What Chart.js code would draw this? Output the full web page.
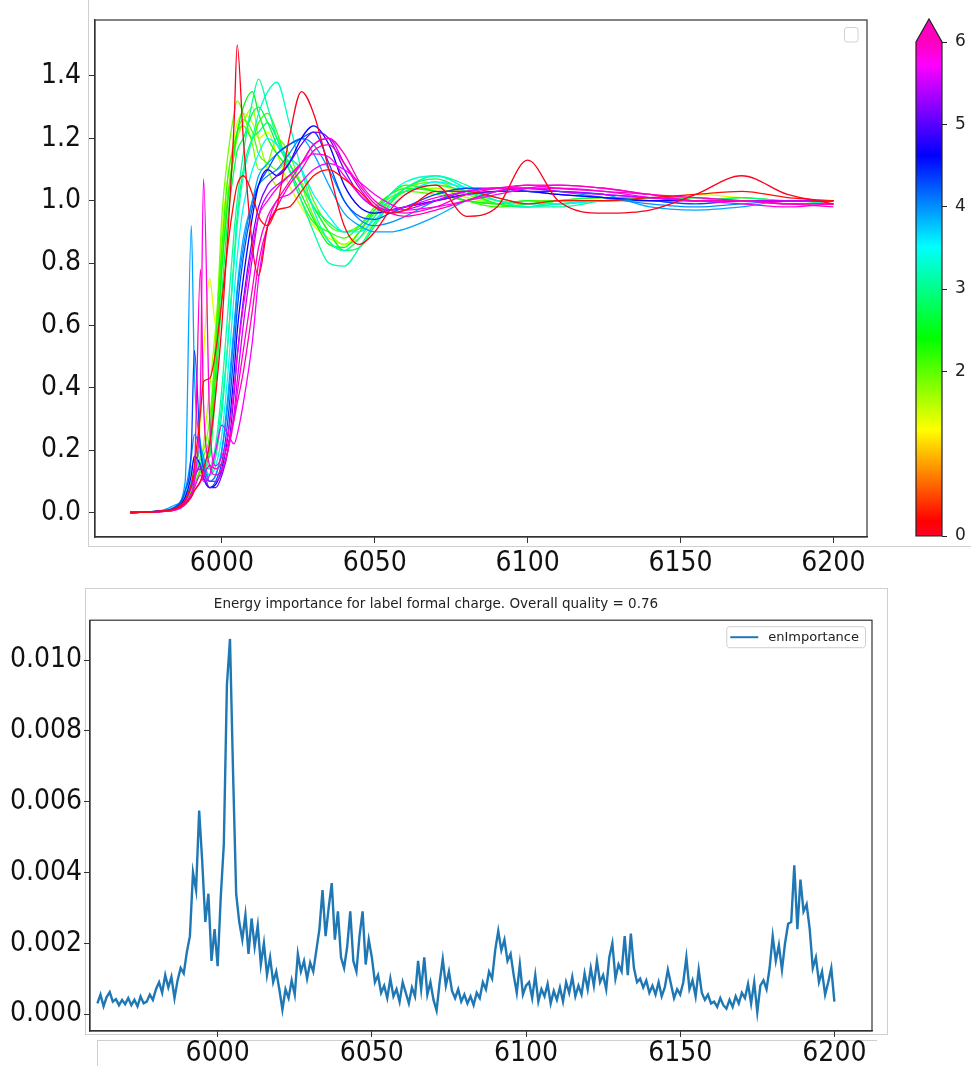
<!DOCTYPE html>
<html>
<head>
<meta charset="utf-8">
<title>Spectra and energy importance</title>
<script src="https://cdn.jsdelivr.net/npm/chart.js@4.4.1/dist/chart.umd.min.js"></script>
<style>
  html, body { margin: 0; padding: 0; background: #fff; }
  body { width: 971px; height: 1066px; position: relative; overflow: hidden; }
  canvas, .frame { position: absolute; }
  .frame { border: 0 solid #cfcfcf; box-sizing: border-box; }
</style>
</head>
<body>
<div class="frame" style="left:88px; top:-2px; width:890px; height:549px; border-left-width:1px; border-bottom-width:1px;"></div>
<div class="frame" style="left:85px; top:588px; width:803px; height:447px; border-width:1px;"></div>
<div class="frame" style="left:97px; top:1040px; width:780px; height:40px; border-left-width:1px; border-top-width:1px;"></div>
<canvas id="spectraChart" width="880" height="580" style="left:0; top:0;"></canvas>
<canvas id="colorbar" width="91" height="560" style="left:880px; top:0;"></canvas>
<canvas id="importanceChart" width="890" height="478" style="left:0; top:588px;"></canvas>

<script>
// ============ DATA: SPECTRA (top panel) ============

const energy = [5970, 5980, 5985, 5988, 5990, 5991, 5993, 5994, 5996, 5998,
                6000, 6002, 6004, 6005, 6007, 6010, 6012, 6015, 6018, 6022,
                6026, 6030, 6035, 6040, 6045, 6050, 6055, 6060, 6070, 6080,
                6090, 6100, 6110, 6125, 6140, 6155, 6170, 6185, 6200];

const red1 = [0, 0.004, 0.012, 0.03, 0.05, 0.07, 0.10, 0.14, 0.22, 0.38,
              0.60, 0.90, 1.25, 1.50, 1.20, 0.85, 0.76, 0.92, 0.98, 1.20,
              1.35, 1.28, 1.10, 0.92, 0.86, 0.90, 0.97, 1.02, 1.05, 0.95,
              0.98, 1.13, 1.00, 0.96, 0.97, 1.02, 1.08, 1.02, 0.99];
const red2 = [0, 0.004, 0.014, 0.04, 0.09, 0.15, 0.32, 0.42, 0.43, 0.52,
              0.68, 0.86, 1.00, 1.05, 1.08, 1.02, 0.95, 0.92, 0.97, 0.98,
              1.03, 1.08, 1.10, 1.07, 1.03, 0.98, 0.96, 0.97, 1.03, 1.03,
              1.01, 0.99, 1.00, 1.00, 1.01, 1.02, 1.03, 1.01, 1.00];
const green1 = [0, 0.004, 0.015, 0.04, 0.08, 0.12, 0.30, 0.50, 0.75, 0.60,
                0.90, 1.08, 1.20, 1.25, 1.28, 1.25, 1.20, 1.22, 1.15, 1.05,
                0.98, 0.92, 0.88, 0.86, 0.90, 0.96, 1.00, 1.03, 1.05, 1.02,
                1.00, 0.99, 1.00, 1.01, 1.00, 1.02, 1.01, 1.00, 1.00];
const green2 = [0, 0.004, 0.012, 0.035, 0.07, 0.10, 0.18, 0.20, 0.30, 0.55,
                0.95, 1.15, 1.28, 1.32, 1.28, 1.18, 1.10, 1.12, 1.20, 1.15,
                1.05, 0.95, 0.87, 0.84, 0.88, 0.95, 1.00, 1.04, 1.06, 1.02,
                0.99, 0.98, 0.99, 1.00, 1.01, 1.01, 1.00, 1.00, 0.99];
const green3 = [0, 0.003, 0.010, 0.03, 0.06, 0.09, 0.14, 0.18, 0.25, 0.55,
                0.85, 1.08, 1.18, 1.22, 1.24, 1.20, 1.25, 1.28, 1.22, 1.10,
                1.00, 0.93, 0.90, 0.88, 0.92, 0.98, 1.02, 1.04, 1.03, 1.00,
                0.98, 0.99, 1.00, 1.00, 1.01, 1.00, 1.01, 1.00, 1.00];
const green4 = [0, 0.004, 0.012, 0.03, 0.06, 0.10, 0.16, 0.14, 0.20, 0.45,
                0.78, 1.00, 1.15, 1.22, 1.30, 1.35, 1.28, 1.20, 1.15, 1.10,
                1.02, 0.94, 0.86, 0.85, 0.90, 0.97, 1.02, 1.05, 1.03, 1.00,
                0.99, 1.00, 0.99, 1.00, 1.00, 1.01, 1.00, 1.00, 1.00];
const green5 = [0, 0.003, 0.010, 0.025, 0.05, 0.08, 0.15, 0.22, 0.40, 0.60,
                0.85, 1.02, 1.15, 1.20, 1.25, 1.30, 1.20, 1.10, 1.05, 1.08,
                1.06, 0.98, 0.90, 0.86, 0.88, 0.93, 0.99, 1.03, 1.04, 1.01,
                0.99, 0.98, 1.00, 1.01, 1.00, 1.00, 1.00, 0.99, 0.99];
const green6 = [0, 0.004, 0.015, 0.04, 0.08, 0.12, 0.20, 0.16, 0.18, 0.40,
                0.70, 0.95, 1.10, 1.16, 1.20, 1.28, 1.30, 1.25, 1.18, 1.12,
                1.05, 0.98, 0.90, 0.84, 0.85, 0.92, 0.99, 1.04, 1.07, 1.03,
                0.99, 0.98, 1.00, 1.01, 1.01, 1.00, 1.00, 1.00, 1.00];
const green7 = [0, 0.003, 0.010, 0.03, 0.06, 0.09, 0.13, 0.15, 0.22, 0.50,
                0.80, 1.02, 1.16, 1.22, 1.26, 1.22, 1.15, 1.12, 1.10, 1.13,
                1.10, 1.00, 0.92, 0.90, 0.92, 0.97, 1.01, 1.03, 1.02, 1.00,
                0.99, 1.00, 1.00, 1.00, 1.01, 1.00, 1.00, 1.00, 1.00];
const aqua1 = [0, 0.004, 0.015, 0.045, 0.10, 0.14, 0.20, 0.17, 0.15, 0.22,
               0.40, 0.65, 0.90, 1.00, 1.15, 1.32, 1.39, 1.30, 1.20, 1.10,
               1.00, 0.90, 0.80, 0.79, 0.85, 0.93, 1.00, 1.04, 1.08, 1.05,
               1.00, 0.98, 0.98, 1.00, 1.01, 1.00, 1.00, 1.00, 1.00];
const aqua2 = [0, 0.004, 0.013, 0.04, 0.09, 0.12, 0.17, 0.15, 0.14, 0.20,
               0.35, 0.55, 0.80, 0.92, 1.08, 1.20, 1.28, 1.35, 1.38, 1.25,
               1.10, 0.97, 0.87, 0.84, 0.88, 0.95, 1.02, 1.06, 1.08, 1.04,
               1.00, 0.98, 0.99, 1.00, 1.01, 1.01, 1.00, 1.00, 0.99];
const aqua3 = [0, 0.004, 0.014, 0.04, 0.08, 0.11, 0.16, 0.13, 0.12, 0.18,
               0.32, 0.55, 0.82, 0.95, 1.10, 1.20, 1.22, 1.25, 1.20, 1.12,
               1.05, 0.98, 0.93, 0.90, 0.91, 0.96, 1.00, 1.03, 1.05, 1.03,
               1.00, 0.99, 1.00, 1.00, 1.00, 1.00, 1.01, 1.00, 1.00];
const aqua4 = [0, 0.005, 0.018, 0.06, 0.14, 0.18, 0.20, 0.16, 0.12, 0.15,
               0.25, 0.45, 0.70, 0.82, 0.98, 1.10, 1.15, 1.20, 1.18, 1.14,
               1.10, 1.02, 0.95, 0.90, 0.90, 0.94, 0.98, 1.02, 1.06, 1.04,
               1.01, 0.99, 0.99, 1.00, 1.00, 1.00, 1.00, 1.00, 1.00];
const blue1 = [0, 0.006, 0.025, 0.10, 0.92, 0.45, 0.22, 0.18, 0.10, 0.12,
               0.20, 0.38, 0.60, 0.72, 0.88, 1.00, 1.08, 1.12, 1.15, 1.18,
               1.20, 1.15, 1.05, 0.96, 0.92, 0.90, 0.90, 0.91, 0.95, 1.00,
               1.03, 1.04, 1.03, 1.02, 0.98, 0.97, 0.98, 1.00, 1.00];
const blue2 = [0, 0.005, 0.020, 0.07, 0.20, 0.52, 0.20, 0.14, 0.08, 0.10,
               0.16, 0.30, 0.52, 0.65, 0.82, 0.98, 1.05, 1.10, 1.15, 1.18,
               1.20, 1.22, 1.12, 1.00, 0.95, 0.94, 0.96, 0.98, 1.02, 1.04,
               1.04, 1.03, 1.02, 1.01, 1.00, 0.99, 1.00, 1.00, 1.00];
const blue3 = [0, 0.004, 0.015, 0.05, 0.12, 0.18, 0.15, 0.11, 0.08, 0.09,
               0.14, 0.25, 0.45, 0.58, 0.75, 0.95, 1.05, 1.10, 1.08, 1.12,
               1.20, 1.24, 1.18, 1.05, 0.98, 0.96, 0.97, 0.98, 1.00, 1.02,
               1.03, 1.03, 1.02, 1.01, 1.00, 1.00, 1.00, 1.00, 1.00];
const blue4 = [0, 0.005, 0.020, 0.07, 0.18, 0.25, 0.20, 0.15, 0.10, 0.12,
               0.20, 0.35, 0.58, 0.70, 0.85, 1.00, 1.05, 1.08, 1.10, 1.15,
               1.20, 1.18, 1.10, 1.00, 0.94, 0.92, 0.93, 0.95, 1.00, 1.03,
               1.04, 1.04, 1.03, 1.01, 0.99, 0.98, 0.99, 1.00, 1.00];
const magenta1 = [0, 0.004, 0.013, 0.04, 0.09, 0.12, 0.14, 0.11, 0.08, 0.08,
                  0.12, 0.20, 0.38, 0.50, 0.68, 0.88, 0.98, 1.05, 1.08, 1.12,
                  1.18, 1.22, 1.20, 1.10, 1.02, 0.98, 0.97, 0.98, 1.00, 1.02,
                  1.03, 1.03, 1.03, 1.02, 1.01, 1.00, 1.00, 1.00, 1.00];
const magenta2 = [0, 0.004, 0.012, 0.035, 0.08, 0.11, 0.15, 0.12, 0.10, 0.10,
                  0.13, 0.20, 0.32, 0.42, 0.60, 0.82, 0.95, 1.02, 1.05, 1.08,
                  1.12, 1.18, 1.20, 1.12, 1.04, 0.98, 0.96, 0.97, 1.00, 1.03,
                  1.04, 1.04, 1.03, 1.02, 1.01, 1.00, 1.00, 1.00, 1.00];
const magenta3 = [0, 0.003, 0.010, 0.03, 0.06, 0.10, 0.40, 1.07, 0.30, 0.15,
                  0.18, 0.25, 0.40, 0.50, 0.66, 0.85, 0.95, 1.00, 1.04, 1.08,
                  1.12, 1.15, 1.14, 1.08, 1.02, 0.98, 0.97, 0.98, 1.01, 1.03,
                  1.04, 1.04, 1.04, 1.03, 1.01, 1.00, 0.99, 0.98, 0.99];
const magenta4 = [0, 0.003, 0.010, 0.03, 0.06, 0.12, 0.78, 0.35, 0.15, 0.12,
                  0.14, 0.20, 0.30, 0.38, 0.52, 0.72, 0.85, 0.95, 1.00, 1.06,
                  1.12, 1.18, 1.20, 1.15, 1.06, 1.00, 0.97, 0.96, 0.98, 1.02,
                  1.04, 1.05, 1.04, 1.03, 1.02, 1.00, 1.00, 0.99, 0.99];
const magenta5 = [0, 0.003, 0.008, 0.025, 0.05, 0.07, 0.10, 0.12, 0.15, 0.14,
                  0.16, 0.22, 0.30, 0.35, 0.45, 0.65, 0.80, 0.92, 0.98, 1.05,
                  1.10, 1.16, 1.18, 1.12, 1.05, 0.99, 0.96, 0.95, 0.97, 1.00,
                  1.03, 1.05, 1.05, 1.04, 1.02, 1.01, 1.00, 0.99, 0.98];
const magenta6 = [0, 0.003, 0.009, 0.028, 0.06, 0.08, 0.12, 0.10, 0.12, 0.20,
                  0.28, 0.25, 0.22, 0.25, 0.35, 0.55, 0.75, 0.92, 1.00, 1.02,
                  1.06, 1.10, 1.12, 1.10, 1.06, 1.02, 0.99, 0.97, 0.98, 1.00,
                  1.02, 1.04, 1.05, 1.04, 1.02, 1.00, 1.00, 0.99, 0.99];

// first in list is drawn on top
const spectra = [red1, red2, magenta5, magenta4, magenta3, magenta6, magenta2, magenta1,
                 blue3, blue2, blue4, blue1, aqua4, aqua2, aqua1, aqua3,
                 green6, green4, green3, green7, green2, green5, green1];
const formalCharges = [0.05, 0.25, 6.0, 5.95, 5.8, 5.7, 5.5, 5.1,
                       4.65, 4.3, 4.0, 3.9, 3.55, 3.25, 3.1, 2.9,
                       2.7, 2.5, 2.2, 2.05, 1.9, 1.7, 1.45];

const spectraXTicks = [6000, 6050, 6100, 6150, 6200];
const spectraYTicks = [0.0, 0.2, 0.4, 0.6, 0.8, 1.0, 1.2, 1.4];
const colorbarTicks = [0, 2, 3, 4, 5, 6];

// ============ DATA: ENERGY IMPORTANCE (bottom panel) ============

const impEnergy = [
  5961, 5962, 5963, 5964, 5965, 5966, 5967, 5968, 5969, 5970,
  5971, 5972, 5973, 5974, 5975, 5976, 5977, 5978, 5979, 5980,
  5981, 5982, 5983, 5984, 5985, 5986, 5987, 5988, 5989, 5990,
  5991, 5992, 5993, 5994, 5995, 5996, 5997, 5998, 5999, 6000,
  6001, 6002, 6003, 6004, 6005, 6006, 6007, 6008, 6009, 6010,
  6011, 6012, 6013, 6014, 6015, 6016, 6017, 6018, 6019, 6020,
  6021, 6022, 6023, 6024, 6025, 6026, 6027, 6028, 6029, 6030,
  6031, 6032, 6033, 6034, 6035, 6036, 6037, 6038, 6039, 6040,
  6041, 6042, 6043, 6044, 6045, 6046, 6047, 6048, 6049, 6050,
  6051, 6052, 6053, 6054, 6055, 6056, 6057, 6058, 6059, 6060,
  6061, 6062, 6063, 6064, 6065, 6066, 6067, 6068, 6069, 6070,
  6071, 6072, 6073, 6074, 6075, 6076, 6077, 6078, 6079, 6080,
  6081, 6082, 6083, 6084, 6085, 6086, 6087, 6088, 6089, 6090,
  6091, 6092, 6093, 6094, 6095, 6096, 6097, 6098, 6099, 6100,
  6101, 6102, 6103, 6104, 6105, 6106, 6107, 6108, 6109, 6110,
  6111, 6112, 6113, 6114, 6115, 6116, 6117, 6118, 6119, 6120,
  6121, 6122, 6123, 6124, 6125, 6126, 6127, 6128, 6129, 6130,
  6131, 6132, 6133, 6134, 6135, 6136, 6137, 6138, 6139, 6140,
  6141, 6142, 6143, 6144, 6145, 6146, 6147, 6148, 6149, 6150,
  6151, 6152, 6153, 6154, 6155, 6156, 6157, 6158, 6159, 6160,
  6161, 6162, 6163, 6164, 6165, 6166, 6167, 6168, 6169, 6170,
  6171, 6172, 6173, 6174, 6175, 6176, 6177, 6178, 6179, 6180,
  6181, 6182, 6183, 6184, 6185, 6186, 6187, 6188, 6189, 6190,
  6191, 6192, 6193, 6194, 6195, 6196, 6197, 6198, 6199, 6200
];

// importance values in units of 1e-3
const impMilli = [
  0.30, 0.55, 0.22, 0.48, 0.62, 0.35, 0.42, 0.25, 0.40, 0.28,
  0.45, 0.25, 0.40, 0.22, 0.50, 0.30, 0.35, 0.55, 0.40, 0.70,
  0.90, 0.60, 1.10, 0.75, 1.05, 0.45, 0.95, 1.30, 1.15, 1.75,
  2.20, 4.00, 3.50, 5.75, 4.30, 2.60, 3.40, 1.50, 2.40, 1.35,
  3.30, 4.80, 9.30, 10.60, 6.80, 3.40, 2.60, 2.10, 2.80, 1.70,
  2.70, 1.90, 2.50, 1.40, 2.00, 1.10, 1.60, 0.90, 1.20, 0.70,
  0.12, 0.70, 0.45, 0.95, 0.55, 1.70, 1.20, 1.50, 1.00, 1.45,
  1.20, 1.80, 2.40, 3.50, 2.20, 3.00, 3.70, 2.10, 2.90, 1.60,
  1.30, 1.90, 2.90, 1.50, 1.20, 2.20, 2.90, 1.40, 2.10, 1.60,
  0.90, 1.10, 0.60, 0.80, 0.45, 1.00, 0.50, 0.70, 0.35, 0.90,
  0.60, 0.30, 0.75, 0.50, 1.50, 0.70, 1.60, 0.55, 0.90, 0.40,
  0.10, 0.90, 1.55, 0.80, 1.20, 0.65, 0.45, 0.70, 0.35, 0.55,
  0.30, 0.50, 0.25, 0.60, 0.45, 0.90, 0.70, 1.20, 1.00, 1.80,
  2.35, 1.80, 2.10, 1.50, 1.70, 1.10, 0.60, 1.40, 0.55, 0.80,
  0.90, 0.45, 1.10, 0.35, 0.70, 0.50, 0.85, 0.30, 0.65, 0.40,
  0.75, 0.35, 0.90, 0.60, 1.05, 0.50, 0.80, 0.55, 1.15, 0.70,
  1.30, 0.80, 1.50, 0.90, 1.10, 0.70, 1.60, 2.00, 1.00, 1.40,
  1.20, 2.20, 1.10, 2.27, 1.30, 0.90, 1.00, 0.75, 0.95, 0.60,
  0.80, 0.55, 0.90, 0.50, 0.75, 1.25, 0.85, 0.45, 0.70, 0.55,
  0.90, 1.60, 0.70, 0.95, 0.50, 1.25, 0.60, 0.40, 0.55, 0.30,
  0.35, 0.20, 0.45, 0.25, 0.15, 0.40, 0.20, 0.50, 0.30, 0.60,
  0.45, 0.85, 0.30, 0.90, 0.05, 0.80, 0.95, 0.70, 1.30, 2.20,
  1.50, 1.95, 1.25, 2.00, 2.55, 2.60, 4.20, 2.40, 3.80, 2.90,
  3.10, 2.40, 1.30, 1.60, 0.90, 1.20, 0.55, 0.90, 1.30, 0.35
];

const impXTicks = [6000, 6050, 6100, 6150, 6200];
const impYTicks = [0.000, 0.002, 0.004, 0.006, 0.008, 0.010];

// ============ STYLE HELPERS ============

const axisFont = '"DejaVu Sans Condensed", "Open Sans", sans-serif';
const mplFont = '"DejaVu Sans", sans-serif';

// gist_rainbow colormap
const rainbowStops = [
  [0.000, 1.00, 0.00, 0.16], [0.030, 1.00, 0.00, 0.00], [0.215, 1.00, 1.00, 0.00],
  [0.400, 0.00, 1.00, 0.00], [0.586, 0.00, 1.00, 1.00], [0.770, 0.00, 0.00, 1.00],
  [0.954, 1.00, 0.00, 1.00], [1.000, 1.00, 0.00, 0.75]
];
const overColor = 'rgb(255, 0, 191)';

function toRgb(r, g, b) {
  return `rgb(${Math.round(r * 255)}, ${Math.round(g * 255)}, ${Math.round(b * 255)})`;
}

function rainbow(t) {
  t = Math.min(1, Math.max(0, t));
  for (let i = 1; i < rainbowStops.length; i++) {
    const [p0, r0, g0, b0] = rainbowStops[i - 1];
    const [p1, r1, g1, b1] = rainbowStops[i];
    if (t <= p1) {
      const f = (t - p0) / (p1 - p0);
      return toRgb(r0 + (r1 - r0) * f, g0 + (g1 - g0) * f, b0 + (b1 - b0) * f);
    }
  }
  return overColor;
}

function fixedTicks(list) {
  return scale => { scale.ticks = list.map(v => ({ value: v })); };
}

// ============ PLUGINS ============

const framePlugin = {
  id: 'frame',
  afterDraw(chart) {
    const { ctx, chartArea: a } = chart;
    ctx.save();
    ctx.strokeStyle = '#333';
    ctx.lineWidth = 1.2;
    ctx.strokeRect(a.left, a.top, a.right - a.left, a.bottom - a.top);
    ctx.restore();
  }
};

// matplotlib draws an empty legend frame when no labels are given
const emptyLegendPlugin = {
  id: 'emptyLegend',
  afterDraw(chart) {
    const { ctx, chartArea: a } = chart;
    ctx.save();
    ctx.strokeStyle = '#d0d0d0';
    ctx.lineWidth = 1;
    ctx.beginPath();
    ctx.roundRect(a.right - 22.5, a.top + 7.5, 13.5, 14.5, 2.5);
    ctx.stroke();
    ctx.restore();
  }
};

const boxLegendPlugin = {
  id: 'boxLegend',
  afterDraw(chart) {
    const { ctx, chartArea: a } = chart;
    const ds = chart.data.datasets[0];
    ctx.save();
    ctx.font = '13px ' + mplFont;
    const w = ctx.measureText(ds.label).width + 48;
    const h = 21;
    const x = a.right - 7 - w;
    const y = a.top + 6;
    ctx.beginPath();
    ctx.roundRect(x + 0.5, y + 0.5, w, h, 3);
    ctx.fillStyle = 'rgba(255,255,255,0.8)';
    ctx.fill();
    ctx.strokeStyle = '#d0d0d0';
    ctx.lineWidth = 1;
    ctx.stroke();
    ctx.beginPath();
    ctx.moveTo(x + 4, y + h / 2 + 0.5);
    ctx.lineTo(x + 32, y + h / 2 + 0.5);
    ctx.strokeStyle = ds.borderColor;
    ctx.lineWidth = 2;
    ctx.stroke();
    ctx.fillStyle = '#222';
    ctx.textBaseline = 'middle';
    ctx.fillText(ds.label, x + 42, y + h / 2 + 1);
    ctx.restore();
  }
};

const colorbarPlugin = {
  id: 'colorbarFill',
  afterDraw(chart) {
    const { ctx, chartArea: a, scales: { y } } = chart;
    const yBottom = y.getPixelForValue(y.min);
    const yTop = y.getPixelForValue(y.max);
    const mid = (a.left + a.right) / 2;
    const tip = yTop - 23;
    ctx.save();
    const grad = ctx.createLinearGradient(0, yBottom, 0, yTop);
    rainbowStops.forEach(([p, r, g, b]) => grad.addColorStop(p, toRgb(r, g, b)));
    ctx.fillStyle = grad;
    ctx.fillRect(a.left, yTop, a.right - a.left, yBottom - yTop);
    ctx.beginPath();
    ctx.moveTo(a.left, yTop);
    ctx.lineTo(mid, tip);
    ctx.lineTo(a.right, yTop);
    ctx.closePath();
    ctx.fillStyle = overColor;
    ctx.fill();
    ctx.beginPath();
    ctx.moveTo(a.left, yBottom);
    ctx.lineTo(a.left, yTop);
    ctx.lineTo(mid, tip);
    ctx.lineTo(a.right, yTop);
    ctx.lineTo(a.right, yBottom);
    ctx.closePath();
    ctx.strokeStyle = '#222';
    ctx.lineWidth = 1.2;
    ctx.stroke();
    ctx.restore();
  }
};

// ============ TOP PANEL: SPECTRA ============

const spectraDatasets = spectra.map((values, i) => ({
  label: '',
  data: energy.map((e, j) => ({ x: e, y: values[j] })),
  borderColor: rainbow(formalCharges[i] / 6),
  borderWidth: 1.3,
  pointRadius: 0,
  fill: false,
  cubicInterpolationMode: 'monotone'
}));

const tickMarks = { drawOnChartArea: false, drawTicks: true, tickLength: 6, color: '#333', lineWidth: 1 };

new Chart(document.getElementById('spectraChart'), {
  type: 'line',
  data: { datasets: spectraDatasets },
  options: {
    responsive: false,
    animation: false,
    layout: { padding: { top: 20, right: 13, left: 0, bottom: 0 } },
    plugins: { legend: { display: false }, tooltip: { enabled: false } },
    scales: {
      x: {
        type: 'linear', min: 5958.5, max: 6211,
        afterBuildTicks: fixedTicks(spectraXTicks),
        afterFit: s => { s.height = 43; },
        ticks: { autoSkip: false, maxRotation: 0, padding: 4, color: '#111',
                 font: { family: axisFont, size: 28 }, callback: v => String(v) },
        grid: tickMarks,
        border: { display: true, color: '#333', width: 1.2 }
      },
      y: {
        min: -0.0786, max: 1.5796,
        afterBuildTicks: fixedTicks(spectraYTicks),
        afterFit: s => { s.width = 95; s.paddingTop = 0; s.paddingBottom = 0; },
        ticks: { padding: 8, color: '#111', font: { family: axisFont, size: 28 },
                 callback: v => v.toFixed(1) },
        grid: tickMarks,
        border: { display: true, color: '#333', width: 1.2 }
      }
    }
  },
  plugins: [framePlugin, emptyLegendPlugin]
});

// ============ COLORBAR ============

new Chart(document.getElementById('colorbar'), {
  type: 'line',
  data: { datasets: [] },
  options: {
    responsive: false,
    animation: false,
    layout: { padding: { top: 42, left: 36, bottom: 24, right: 0 } },
    plugins: { legend: { display: false }, tooltip: { enabled: false } },
    scales: {
      x: { display: false },
      y: {
        position: 'right', min: 0, max: 6,
        afterBuildTicks: fixedTicks(colorbarTicks),
        afterFit: s => { s.width = 29; },
        ticks: { padding: 8, color: '#222', font: { family: mplFont, size: 17 } },
        grid: { drawOnChartArea: false, drawTicks: true, tickLength: 5, color: '#222' },
        border: { display: false }
      }
    }
  },
  plugins: [colorbarPlugin]
});

// ============ BOTTOM PANEL: ENERGY IMPORTANCE ============

new Chart(document.getElementById('importanceChart'), {
  type: 'line',
  data: {
    datasets: [{
      label: 'enImportance',
      data: impEnergy.map((e, i) => ({ x: e, y: impMilli[i] / 1000 })),
      borderColor: '#1f77b4',
      borderWidth: 2.4,
      pointRadius: 0,
      fill: false,
      tension: 0
    }]
  },
  options: {
    responsive: false,
    animation: false,
    layout: { padding: { top: 0, right: 18, left: 0, bottom: 0 } },
    plugins: {
      legend: { display: false },
      tooltip: { enabled: false },
      title: {
        display: true,
        text: 'Energy importance for label formal charge. Overall quality = 0.76',
        color: '#222',
        font: { family: mplFont, size: 13.5, weight: 'normal' },
        padding: { top: 8, bottom: 8 }
      }
    },
    scales: {
      x: {
        type: 'linear', min: 5958.6, max: 6212.2,
        afterBuildTicks: fixedTicks(impXTicks),
        afterFit: s => { s.height = 35; },
        ticks: { autoSkip: false, maxRotation: 0, padding: 0, color: '#111',
                 font: { family: axisFont, size: 28 }, callback: v => String(v) },
        grid: tickMarks,
        border: { display: true, color: '#333', width: 1.2 }
      },
      y: {
        min: -0.00048, max: 0.01113,
        afterBuildTicks: fixedTicks(impYTicks),
        afterFit: s => { s.width = 90; },
        ticks: { padding: 2, color: '#111', font: { family: axisFont, size: 28 },
                 callback: v => v.toFixed(3) },
        grid: tickMarks,
        border: { display: true, color: '#333', width: 1.2 }
      }
    }
  },
  plugins: [framePlugin, boxLegendPlugin]
});
</script>
</body>
</html>
